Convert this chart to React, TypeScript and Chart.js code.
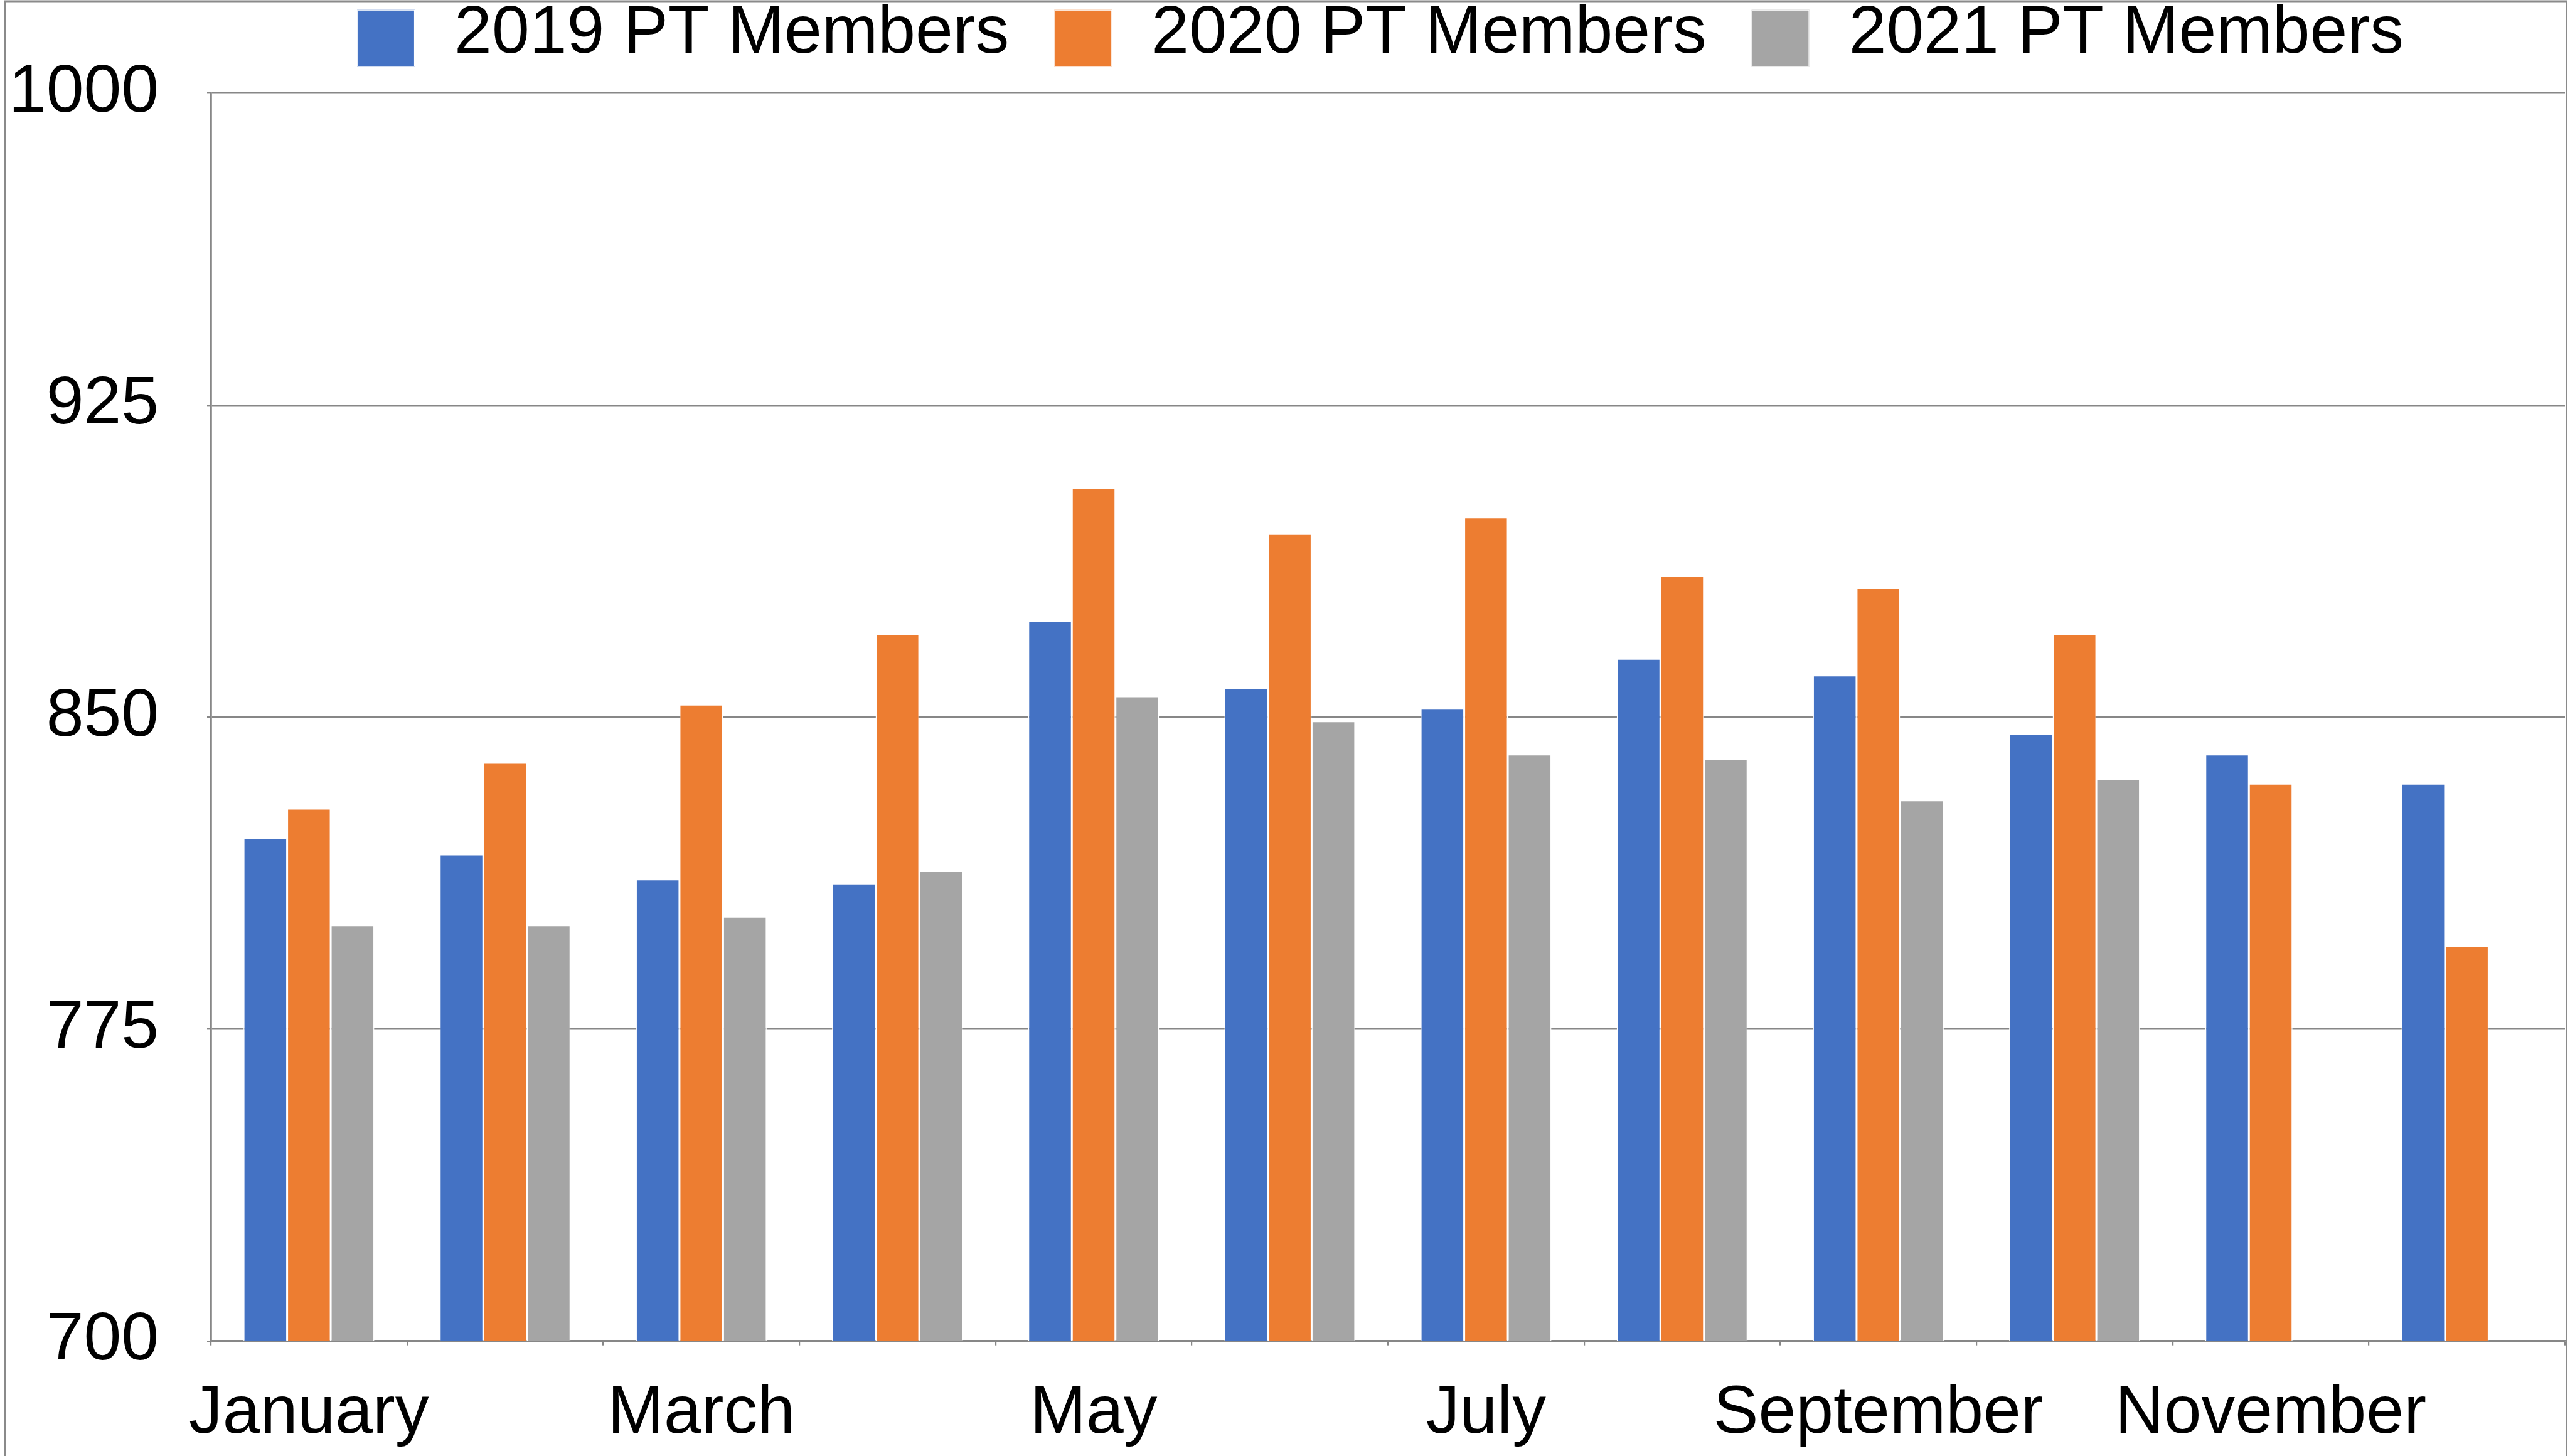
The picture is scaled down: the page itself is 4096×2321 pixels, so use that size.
import React, { useEffect, useRef } from "react";
import { Chart, registerables } from "chart.js";

Chart.register(...registerables);

// ---- data ----
const months = [
  "January", "February", "March", "April", "May", "June",
  "July", "August", "September", "October", "November", "December",
];
const seriesLabels = ["2019 PT Members", "2020 PT Members", "2021 PT Members"];
const members2019 = [821, 817, 811, 810, 873, 857, 852, 864, 860, 846, 841, 834];
const members2020 = [828, 839, 853, 870, 905, 894, 898, 884, 881, 870, 834, 795];
const members2021: (number | null)[] = [800, 800, 802, 813, 855, 849, 841, 840, 830, 835, null, null];
const yMin = 700;
const yMax = 1000;
const yStep = 75;

// ---- styles ----
const seriesColors = ["#4472C4", "#ED7D31", "#A5A5A5"];
const W = 4096;
const H = 2321;
const FONT = "'Liberation Sans', Arial, sans-serif";
const FONT_SIZE = 107.5;
const GRID = "#878787";

const framePlugin = {
  id: "frame",
  beforeDraw(chart: any) {
    const ctx = chart.ctx;
    ctx.save();
    ctx.fillStyle = "#ffffff";
    ctx.fillRect(0, 0, chart.width, chart.height);
    ctx.strokeStyle = "#8a8a8a";
    ctx.lineWidth = 2.8;
    ctx.beginPath();
    ctx.moveTo(7.8, H + 5);
    ctx.lineTo(7.8, 2);
    ctx.lineTo(4090.5, 2);
    ctx.lineTo(4090.5, H + 5);
    ctx.stroke();
    ctx.restore();
  },
};

const legendPlugin = {
  id: "topLegend",
  afterDraw(chart: any) {
    const ctx = chart.ctx;
    ctx.save();
    ctx.font = `${FONT_SIZE}px ${FONT}`;
    ctx.textBaseline = "middle";
    ctx.textAlign = "left";
    const box = 92;
    const boxH = 91;
    const gap = 63;
    const spacing = 72;
    const items = chart.data.datasets.map((ds: any) => ({
      text: ds.label,
      color: ds.backgroundColor,
      w: ctx.measureText(ds.label).width,
    }));
    const total =
      items.reduce((s: number, it: any) => s + box + gap + it.w, 0) +
      spacing * (items.length - 1);
    let x = 2200 - total / 2;
    for (const it of items) {
      ctx.fillStyle = it.color;
      ctx.fillRect(x, 15.6, box, boxH);
      ctx.strokeStyle = "#ffffff";
      ctx.lineWidth = 1.2;
      ctx.strokeRect(x + 0.6, 15.6 + 0.6, box - 1.2, boxH - 1.2);
      ctx.fillStyle = "#000000";
      ctx.fillText(it.text, x + box + gap, 54.2);
      x += box + gap + it.w + spacing;
    }
    ctx.restore();
  },
};

export default function App() {
  const canvasRef = useRef<HTMLCanvasElement | null>(null);

  useEffect(() => {
    document.body.style.margin = "0";
    document.body.style.overflow = "hidden";
    const canvas = canvasRef.current;
    if (!canvas) return;
    Chart.defaults.font.family = FONT;
    Chart.defaults.color = "#000000";

    const chart = new Chart(canvas, {
      type: "bar",
      data: {
        labels: months,
        datasets: [
          { label: seriesLabels[0], data: members2019, backgroundColor: seriesColors[0] },
          { label: seriesLabels[1], data: members2020, backgroundColor: seriesColors[1] },
          { label: seriesLabels[2], data: members2021, backgroundColor: seriesColors[2] },
        ].map((d) => ({
          ...d,
          borderColor: "#ffffff",
          borderWidth: 1.5,
          categoryPercentage: 0.6667,
          barPercentage: 1,
        })),
      },
      options: {
        animation: false,
        responsive: false,
        devicePixelRatio: 1,
        layout: { padding: { top: 148.5, right: 8, bottom: 0, left: 0 } },
        plugins: {
          legend: { display: false },
          tooltip: { enabled: false },
          title: { display: false },
        },
        scales: {
          x: {
            grid: {
              display: true,
              drawOnChartArea: false,
              drawTicks: true,
              tickLength: 7,
              color: GRID,
              lineWidth: 2.2,
              offset: true,
            },
            border: { display: true, color: GRID, width: 2.8 },
            ticks: {
              autoSkip: false,
              maxRotation: 0,
              minRotation: 0,
              padding: 45,
              font: { size: FONT_SIZE, family: FONT },
              color: "#000000",
              callback: (_v: any, i: number) => (i % 2 === 0 ? months[i] : ""),
            },
            afterFit: (scale: any) => {
              scale.height = H - 2137.7;
            },
          },
          y: {
            min: yMin,
            max: yMax,
            grid: {
              color: GRID,
              lineWidth: 2.4,
              drawTicks: true,
              tickLength: 6,
            },
            border: { display: true, color: GRID, width: 2.8 },
            ticks: {
              stepSize: yStep,
              padding: 77,
              font: { size: FONT_SIZE, family: FONT },
              color: "#000000",
              callback: (v: any) => String(v),
            },
            afterFit: (scale: any) => {
              scale.width = 336;
            },
          },
        },
      },
      plugins: [framePlugin, legendPlugin],
    });

    return () => chart.destroy();
  }, []);

  return (
    <div style={{ position: "absolute", left: 0, top: 0, width: W, height: H, overflow: "hidden" }}>
      <canvas ref={canvasRef} width={W} height={H} style={{ display: "block", width: W, height: H }} />
    </div>
  );
}
